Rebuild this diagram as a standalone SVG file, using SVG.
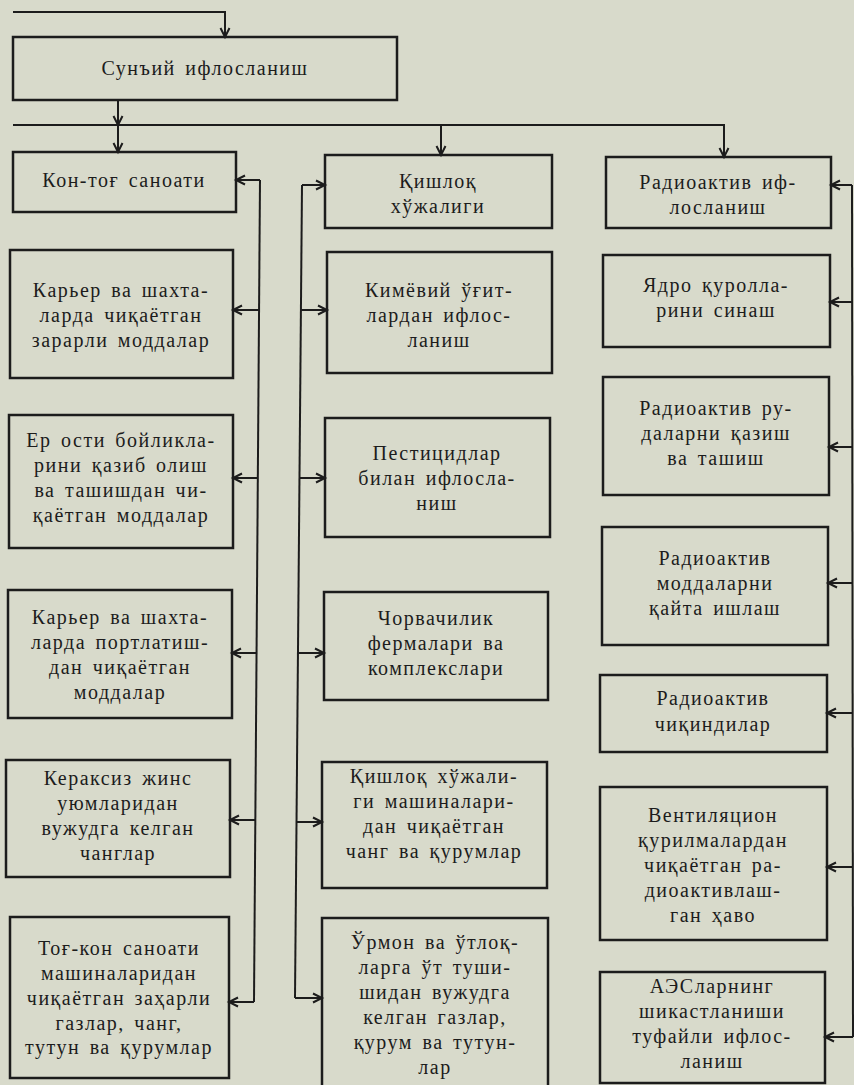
<svg xmlns="http://www.w3.org/2000/svg" width="854" height="1085" viewBox="0 0 854 1085">
<style>
.box{fill:none;stroke:#1c1c1c;stroke-width:2.5}
.t{font-family:"Liberation Serif","DejaVu Serif",serif;font-size:20px;fill:#1c1c1c;text-anchor:middle;letter-spacing:1.5px;word-spacing:3px}
.c{fill:none;stroke:#1c1c1c;stroke-width:2}
.a{fill:none;stroke:#1c1c1c;stroke-width:2;marker-end:url(#ah)}
</style>
<defs>
<marker id="ah" markerUnits="userSpaceOnUse" markerWidth="14" markerHeight="14" refX="10" refY="5" orient="auto" overflow="visible">
<path d="M1,0.5 L10,5 L1,9.5" fill="none" stroke="#1c1c1c" stroke-width="2"/>
</marker>
</defs>
<rect x="0" y="0" width="854" height="1085" fill="#d8dacb"/>

<g id="connectors">
<polyline class="a" points="13,12 225,12 225,37"/>
<line class="a" x1="118" y1="100" x2="118" y2="125"/>
<line class="a" x1="118" y1="125" x2="118" y2="152"/>
<polyline class="a" points="13,125 724,125 724,157"/>
<line class="a" x1="441" y1="125" x2="441" y2="155"/>

<path class="c" d="M260,180 L254,1002"/>
<line class="a" x1="260" y1="180" x2="236" y2="180"/>
<line class="a" x1="259" y1="310" x2="233" y2="310"/>
<line class="a" x1="258" y1="478" x2="233" y2="478"/>
<line class="a" x1="257" y1="653" x2="232" y2="653"/>
<line class="a" x1="255.5" y1="820" x2="230" y2="820"/>
<line class="a" x1="254" y1="1002" x2="229" y2="1002"/>

<path class="c" d="M302,185 L295,998"/>
<line class="a" x1="302" y1="185" x2="325" y2="185"/>
<line class="a" x1="301" y1="310" x2="327" y2="310"/>
<line class="a" x1="300" y1="478" x2="325" y2="478"/>
<line class="a" x1="298" y1="653" x2="324" y2="653"/>
<line class="a" x1="297" y1="822" x2="322" y2="822"/>
<line class="a" x1="295" y1="998" x2="322" y2="998"/>

<path class="c" d="M852,185 L853,1037"/>
<line class="a" x1="852" y1="185" x2="831" y2="185"/>
<line class="a" x1="852" y1="302" x2="830" y2="302"/>
<line class="a" x1="852" y1="447" x2="829" y2="447"/>
<line class="a" x1="852" y1="583" x2="828" y2="583"/>
<line class="a" x1="853" y1="713" x2="827" y2="713"/>
<line class="a" x1="853" y1="867" x2="827" y2="867"/>
<line class="a" x1="853" y1="1037" x2="825" y2="1037"/>
</g>

<g id="top">
<rect class="box" x="13" y="37" width="384" height="63"/>
<text class="t" x="205" y="75">Сунъий ифлосланиш</text>
</g>

<g id="L1">
<rect class="box" x="13" y="152" width="223" height="60"/>
<text class="t" x="124" y="187">Кон-тоғ саноати</text>
</g>
<g id="L2">
<rect class="box" x="10" y="250" width="223" height="128"/>
<text class="t"><tspan x="121" y="297">Карьер ва шахта-</tspan><tspan x="121" y="322">ларда чиқаётган</tspan><tspan x="121" y="347">зарарли моддалар</tspan></text>
</g>
<g id="L3">
<rect class="box" x="9" y="415" width="224" height="133"/>
<text class="t"><tspan x="121" y="447">Ер ости бойликла-</tspan><tspan x="121" y="472">рини қазиб олиш</tspan><tspan x="121" y="497">ва ташишдан чи-</tspan><tspan x="121" y="522">қаётган моддалар</tspan></text>
</g>
<g id="L4">
<rect class="box" x="8" y="590" width="224" height="128"/>
<text class="t"><tspan x="120" y="624">Карьер ва шахта-</tspan><tspan x="120" y="649">ларда портлатиш-</tspan><tspan x="120" y="674">дан чиқаётган</tspan><tspan x="120" y="699">моддалар</tspan></text>
</g>
<g id="L5">
<rect class="box" x="6" y="760" width="224" height="117"/>
<text class="t"><tspan x="118" y="785">Кераксиз жинс</tspan><tspan x="118" y="810">уюмларидан</tspan><tspan x="118" y="835">вужудга келган</tspan><tspan x="118" y="860">чанглар</tspan></text>
</g>
<g id="L6">
<rect class="box" x="10" y="917" width="219" height="161"/>
<text class="t"><tspan x="119" y="955">Тоғ-кон саноати</tspan><tspan x="119" y="980">машиналаридан</tspan><tspan x="119" y="1005">чиқаётган заҳарли</tspan><tspan x="119" y="1030">газлар, чанг,</tspan><tspan x="119" y="1054">тутун ва қурумлар</tspan></text>
</g>

<g id="C1">
<rect class="box" x="325" y="155" width="227" height="73"/>
<text class="t"><tspan x="438" y="188">Қишлоқ</tspan><tspan x="438" y="213">хўжалиги</tspan></text>
</g>
<g id="C2">
<rect class="box" x="327" y="252" width="225" height="121"/>
<text class="t"><tspan x="439" y="297">Кимёвий ўғит-</tspan><tspan x="439" y="322">лардан ифлос-</tspan><tspan x="439" y="347">ланиш</tspan></text>
</g>
<g id="C3">
<rect class="box" x="325" y="418" width="225" height="119"/>
<text class="t"><tspan x="437" y="460">Пестицидлар</tspan><tspan x="437" y="485">билан ифлосла-</tspan><tspan x="437" y="510">ниш</tspan></text>
</g>
<g id="C4">
<rect class="box" x="324" y="592" width="224" height="108"/>
<text class="t"><tspan x="436" y="625">Чорвачилик</tspan><tspan x="436" y="650">фермалари ва</tspan><tspan x="436" y="675">комплекслари</tspan></text>
</g>
<g id="C5">
<rect class="box" x="322" y="762" width="225" height="126"/>
<text class="t"><tspan x="434" y="783">Қишлоқ хўжали-</tspan><tspan x="434" y="808">ги машиналари-</tspan><tspan x="434" y="833">дан чиқаётган</tspan><tspan x="434" y="858">чанг ва қурумлар</tspan></text>
</g>
<g id="C6">
<rect class="box" x="322" y="918" width="226" height="172"/>
<text class="t"><tspan x="435" y="949">Ўрмон ва ўтлоқ-</tspan><tspan x="435" y="974">ларга ўт туши-</tspan><tspan x="435" y="999">шидан вужудга</tspan><tspan x="435" y="1024">келган газлар,</tspan><tspan x="435" y="1049">қурум ва тутун-</tspan><tspan x="435" y="1074">лар</tspan></text>
</g>

<g id="R1">
<rect class="box" x="606" y="157" width="225" height="71"/>
<text class="t"><tspan x="718" y="189">Радиоактив иф-</tspan><tspan x="718" y="214">лосланиш</tspan></text>
</g>
<g id="R2">
<rect class="box" x="603" y="255" width="227" height="92"/>
<text class="t"><tspan x="716" y="292">Ядро қуролла-</tspan><tspan x="716" y="317">рини синаш</tspan></text>
</g>
<g id="R3">
<rect class="box" x="603" y="377" width="226" height="118"/>
<text class="t"><tspan x="716" y="415">Радиоактив ру-</tspan><tspan x="716" y="440">даларни қазиш</tspan><tspan x="716" y="465">ва ташиш</tspan></text>
</g>
<g id="R4">
<rect class="box" x="602" y="527" width="226" height="118"/>
<text class="t"><tspan x="715" y="565">Радиоактив</tspan><tspan x="715" y="590">моддаларни</tspan><tspan x="715" y="615">қайта ишлаш</tspan></text>
</g>
<g id="R5">
<rect class="box" x="600" y="675" width="227" height="77"/>
<text class="t"><tspan x="713" y="705">Радиоактив</tspan><tspan x="713" y="731">чиқиндилар</tspan></text>
</g>
<g id="R6">
<rect class="box" x="600" y="787" width="227" height="153"/>
<text class="t"><tspan x="713" y="822">Вентиляцион</tspan><tspan x="713" y="847">қурилмалардан</tspan><tspan x="713" y="872">чиқаётган ра-</tspan><tspan x="713" y="897">диоактивлаш-</tspan><tspan x="713" y="922">ган ҳаво</tspan></text>
</g>
<g id="R7">
<rect class="box" x="600" y="972" width="225" height="111"/>
<text class="t"><tspan x="712" y="993">АЭСларнинг</tspan><tspan x="712" y="1018">шикастланиши</tspan><tspan x="712" y="1043">туфайли ифлос-</tspan><tspan x="712" y="1068">ланиш</tspan></text>
</g>
</svg>
